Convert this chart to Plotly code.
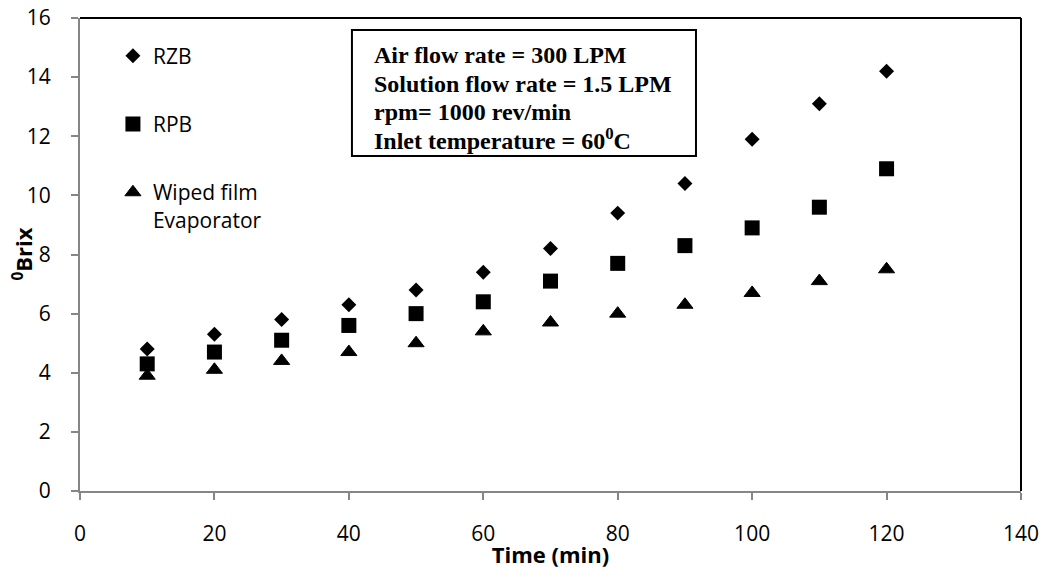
import plotly.graph_objects as go

# ---- data ----
time_min = [10, 20, 30, 40, 50, 60, 70, 80, 90, 100, 110, 120]
rzb = [4.8, 5.3, 5.8, 6.3, 6.8, 7.4, 8.2, 9.4, 10.4, 11.9, 13.1, 14.2]
rpb = [4.3, 4.7, 5.1, 5.6, 6.0, 6.4, 7.1, 7.7, 8.3, 8.9, 9.6, 10.9]
wiped = [3.9, 4.1, 4.4, 4.7, 5.0, 5.4, 5.7, 6.0, 6.3, 6.7, 7.1, 7.5]

series_names = ["RZB", "RPB", "Wiped film<br>Evaporator"]
x_ticks = [0, 20, 40, 60, 80, 100, 120, 140]
y_ticks = [0, 2, 4, 6, 8, 10, 12, 14, 16]
info_lines = [
    "Air flow rate = 300 LPM",
    "Solution flow rate = 1.5 LPM",
    "rpm= 1000 rev/min",
    "Inlet temperature = 60<sup>0</sup>C",
]

SANS = "Open Sans, Lato, sans-serif"
SERIF = "Liberation Serif, Times New Roman, serif"
GREY = "#868686"

fig = go.Figure()
fig.add_trace(go.Scatter(x=time_min, y=rzb, mode="markers", name=series_names[0],
                         legendgroup="a",
                         marker=dict(symbol="diamond", size=11.5, color="black")))
fig.add_trace(go.Scatter(x=time_min, y=rpb, mode="markers", name=series_names[1],
                         legendgroup="b",
                         marker=dict(symbol="square", size=15, color="black")))
fig.add_trace(go.Scatter(x=time_min, y=wiped, mode="markers", name=series_names[2],
                         legendgroup="c",
                         marker=dict(symbol="triangle-up", size=14, color="black",
                                     line=dict(color="black", width=1))))

axis_common = dict(
    showline=True, linecolor=GREY, linewidth=2,
    ticks="outside", ticklen=7, tickwidth=2, tickcolor=GREY,
    showgrid=False, zeroline=False, automargin=False,
    ticklabelstandoff=16,
    tickfont=dict(family=SANS, size=21, color="black"),
)

fig.update_xaxes(range=[0, 140], tickvals=x_ticks,
                 title=dict(text="<b>Time (min)</b>", standoff=0,
                            font=dict(family=SANS, size=22, color="black")),
                 **axis_common)
fig.update_yaxes(range=[0, 16], tickvals=y_ticks, **axis_common)

# y-axis title (rotated text)
fig.add_annotation(xref="paper", yref="paper", x=(22 - 80) / 941, y=0.5,
                   xanchor="center", yanchor="middle", textangle=-90,
                   showarrow=False, text="<b><sup>0</sup>Brix</b>",
                   font=dict(family=SANS, size=22, color="black"))

# plot area border (top and right)
fig.add_shape(type="line", xref="paper", yref="paper", x0=0, x1=1, y0=1, y1=1,
              line=dict(color="black", width=2))
fig.add_shape(type="line", xref="paper", yref="paper", x0=1, x1=1, y0=0, y1=1,
              line=dict(color="black", width=2))

# info box
fig.add_shape(type="rect", xref="paper", yref="paper",
              x0=0.289, x1=0.6546, y0=0.708, y1=0.9746,
              line=dict(color="black", width=2), fillcolor="white", layer="below")
line_y_px = [55.4, 83.8, 111.6, 139.1]
for txt, py in zip(info_lines, line_y_px):
    fig.add_annotation(xref="paper", yref="paper", x=0.3103, y=(491 - py) / 473,
                       xanchor="left", yanchor="middle", showarrow=False,
                       text="<b>" + txt + "</b>", align="left",
                       font=dict(family=SERIF, size=24, color="black"))

fig.update_layout(
    width=1046, height=569,
    margin=dict(l=80, r=25, t=18, b=78, autoexpand=False),
    paper_bgcolor="white", plot_bgcolor="white",
    showlegend=True,
    legend=dict(x=0.035, y=0.963, xanchor="left", yanchor="top",
                bgcolor="rgba(0,0,0,0)", borderwidth=0,
                font=dict(family=SANS, size=21, color="black"),
                traceorder="grouped", tracegroupgap=38, valign="top",
                itemwidth=30),
)

fig.write_html("out.html")
